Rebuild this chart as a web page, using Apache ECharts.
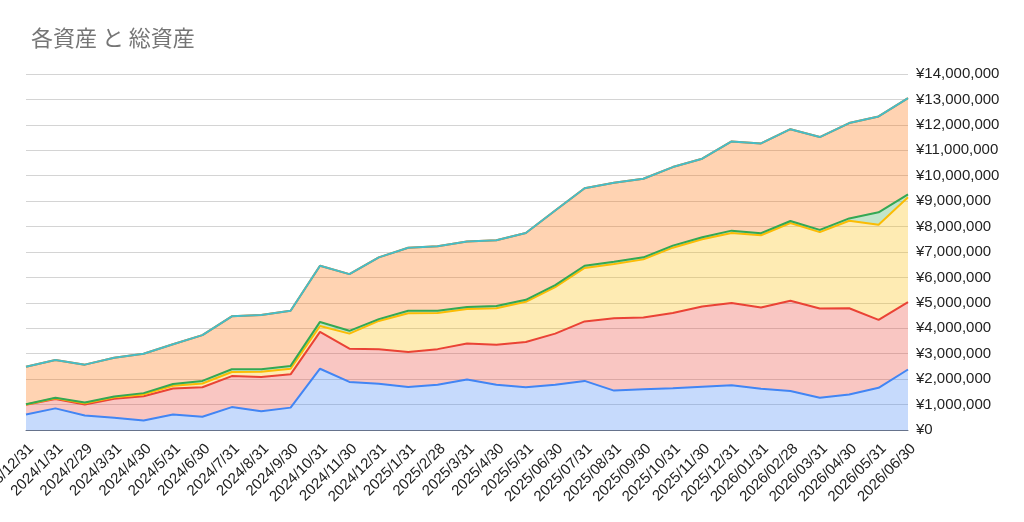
<!DOCTYPE html>
<html>
<head>
<meta charset="utf-8">
<script src="https://cdn.jsdelivr.net/npm/echarts@6/dist/echarts.min.js"></script>
<style>
  html, body { margin: 0; padding: 0; background: #fff; }
  #chart { width: 1024px; height: 522px; }
</style>
</head>
<body>
<div id="chart"></div>
<script>
// 月末日付
const dates = [
  '2023/12/31', '2024/1/31', '2024/2/29', '2024/3/31', '2024/4/30', '2024/5/31',
  '2024/6/30', '2024/7/31', '2024/8/31', '2024/9/30', '2024/10/31', '2024/11/30',
  '2024/12/31', '2025/1/31', '2025/2/28', '2025/3/31', '2025/4/30', '2025/5/31',
  '2025/06/30', '2025/07/31', '2025/08/31', '2025/09/30', '2025/10/31', '2025/11/30',
  '2025/12/31', '2026/01/31', '2026/02/28', '2026/03/31', '2026/04/30', '2026/05/31',
  '2026/06/30'
];

// 各資産（単位: 万円）
const asset1 = [61, 85, 57, 48, 37, 61, 52, 90, 74, 88, 241, 189, 182, 169, 178, 199,
  178, 168, 178, 193, 155, 160, 164, 170, 176, 162, 153, 127, 140, 166, 238];
const asset2 = [38, 37, 43, 75, 96, 102, 116, 122, 134, 131, 145, 131, 136, 138, 140, 141,
  157, 178, 201, 234, 284, 282, 296, 316, 323, 320, 355, 351, 339, 267, 265];
const asset3 = [1, 3, 5, 6, 7, 11, 15, 16, 21, 22, 23, 59, 111, 152, 142, 136,
  144, 158, 183, 210, 214, 229, 257, 264, 276, 284, 306, 300, 344, 374, 412];
const asset4 = [1, 2, 3, 3, 5, 7, 10, 11, 10, 11, 16, 11, 7, 10, 9, 8,
  9, 8, 8, 9, 9, 8, 8, 8, 9, 8, 8, 9, 9, 49, 12];
const asset5 = [148, 148, 149, 152, 155, 156, 180, 208, 213, 217, 221, 223, 243, 248, 254, 257,
  258, 263, 293, 305, 310, 309, 309, 309, 351, 353, 361, 365, 375, 377, 378];
// 総資産（単位: 万円）
const totalAssets = [249, 275, 257, 284, 300, 337, 373, 447, 452, 469, 646, 613, 679, 717, 723, 741,
  746, 775, 863, 951, 972, 988, 1034, 1067, 1135, 1127, 1183, 1152, 1207, 1233, 1305];

const UNIT = 10000;
const toYen = arr => arr.map(v => v * UNIT);

const chart = echarts.init(document.getElementById('chart'));

function areaSeries(name, values, color) {
  return {
    name: name,
    type: 'line',
    stack: 'assets',
    data: toYen(values),
    symbol: 'none',
    lineStyle: { color: color, width: 2 },
    itemStyle: { color: color },
    areaStyle: { color: color, opacity: 0.3 }
  };
}

const option = {
  animation: false,
  title: {
    text: '各資産 と 総資産',
    left: 26,
    top: 22,
    textStyle: {
      fontFamily: 'Noto Sans CJK JP',
      fontSize: 22,
      fontWeight: 'normal',
      color: '#757575'
    }
  },
  grid: {
    left: 26, right: 116, top: 74, bottom: 92,
    containLabel: false,
    outerBoundsMode: 'none'
  },
  xAxis: {
    type: 'category',
    data: dates,
    boundaryGap: false,
    axisLine: { show: true, lineStyle: { color: '#66738c', width: 1 } },
    axisTick: { show: false },
    axisLabel: {
      interval: 0,
      rotate: 45,
      margin: 11,
      verticalAlign: 'top',
      fontSize: 15,
      fontFamily: 'Liberation Sans',
      color: '#222'
    },
    splitLine: { show: false }
  },
  yAxis: {
    type: 'value',
    position: 'right',
    min: 0,
    max: 14000000,
    interval: 1000000,
    axisLine: { show: false },
    axisTick: { show: false },
    axisLabel: {
      margin: 8,
      fontSize: 15,
      fontFamily: 'Liberation Sans',
      color: '#222',
      formatter: v => '¥' + v.toLocaleString('en-US')
    },
    splitLine: { lineStyle: { color: '#d4d4d4', width: 1 } }
  },
  series: [
    areaSeries('資産1', asset1, '#4285F4'),
    areaSeries('資産2', asset2, '#EA4335'),
    areaSeries('資産3', asset3, '#FBBC04'),
    areaSeries('資産4', asset4, '#34A853'),
    areaSeries('資産5', asset5, '#FF6D01'),
    {
      name: '総資産',
      type: 'line',
      data: toYen(totalAssets),
      symbol: 'none',
      z: 5,
      lineStyle: { color: '#46BDC6', width: 2 },
      itemStyle: { color: '#46BDC6' }
    }
  ]
};

chart.setOption(option);
</script>
</body>
</html>
